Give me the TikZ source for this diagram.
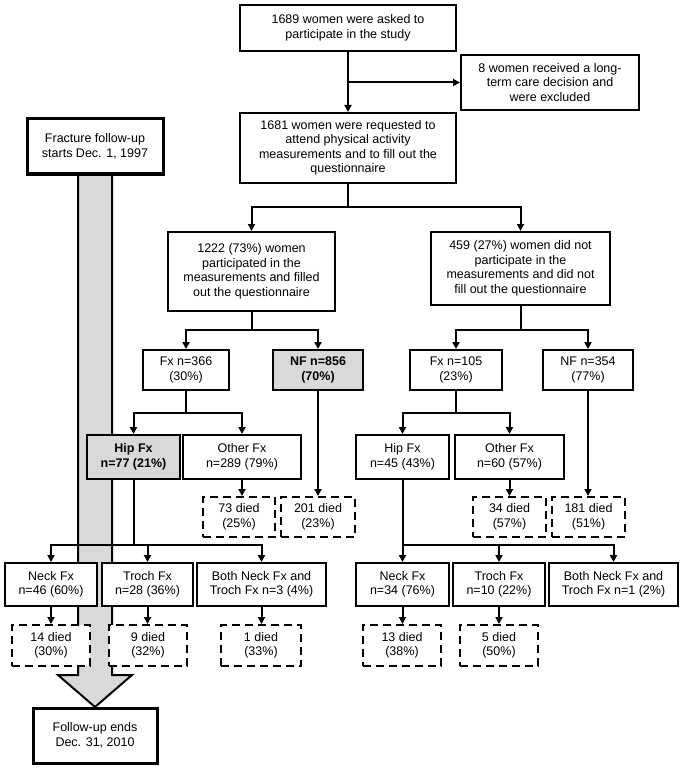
\documentclass[tikz,border=0pt]{standalone}
\usepackage{fontspec}
\setmainfont{Liberation Sans}
\usetikzlibrary{arrows.meta}
\begin{document}
\begin{tikzpicture}[x=1pt,y=-1pt,
 box/.style={draw, line width=2pt, fill=white, inner sep=0pt, align=center, font=\fontsize{12.5}{14.5}\selectfont},
 thickbox/.style={box, line width=3pt},
 graybox/.style={box, fill=gray!30, font=\fontsize{12.5}{14.5}\selectfont\bfseries},
 diedbox/.style={box, dash pattern=on 8pt off 5pt},
 ln/.style={line width=2pt, line cap=rect},
 arr/.style={line width=2pt, line cap=rect, -{Triangle[length=7pt,width=7pt]}},
]
\useasboundingbox (0,0) rectangle (685,770);

% follow-up bar with arrowhead
\draw[line width=2pt, fill=gray!30, line join=miter]
  (78,174) -- (78,675) -- (58,675) -- (95,707) -- (132,675) -- (112,675) -- (112,174) -- cycle;

% nodes
\node[box, minimum width=216pt, minimum height=46pt] (top) at (348,28) {1689 women were asked to\\participate in the study};
\node[box, minimum width=178pt, minimum height=55pt] (excl) at (550,82.5) {8 women received a long-\\term care decision and\\were excluded};
\node[box, minimum width=216pt, minimum height=70pt] (req) at (348,148) {1681 women were requested to\\attend physical activity\\measurements and to fill out the\\questionnaire};
\node[thickbox, minimum width=136pt, minimum height=55pt] (start) at (95,146.5) {Fracture follow-up\\starts Dec. 1, 1997};
\node[box, minimum width=167pt, minimum height=79pt] (part) at (251.5,271.5) {1222 (73\%) women\\participated in the\\measurements and filled\\out the questionnaire};
\node[box, minimum width=179pt, minimum height=73pt] (nonpart) at (520.5,268.5) {459 (27\%) women did not\\participate in the\\measurements and did not\\fill out the questionnaire};

\node[box, minimum width=86pt, minimum height=40pt] (fxL) at (186,370) {Fx n=366\\(30\%)};
\node[graybox, minimum width=90pt, minimum height=40pt] (nfL) at (318,370) {NF n=856\\(70\%)};
\node[box, minimum width=92pt, minimum height=40pt] (fxR) at (456,370) {Fx n=105\\(23\%)};
\node[box, minimum width=90pt, minimum height=40pt] (nfR) at (588,370) {NF n=354\\(77\%)};

\node[graybox, minimum width=93pt, minimum height=44pt] (hipL) at (133.5,457) {Hip Fx\\n=77 (21\%)};
\node[box, minimum width=118pt, minimum height=44pt] (othL) at (242,457) {Other Fx\\n=289 (79\%)};
\node[box, minimum width=93pt, minimum height=44pt] (hipR) at (402.5,457) {Hip Fx\\n=45 (43\%)};
\node[box, minimum width=109pt, minimum height=44pt] (othR) at (509.5,457) {Other Fx\\n=60 (57\%)};

\node[diedbox, minimum width=72pt, minimum height=40pt] (d73) at (239,517) {73 died\\(25\%)};
\node[diedbox, minimum width=74pt, minimum height=40pt] (d201) at (318,517) {201 died\\(23\%)};
\node[diedbox, minimum width=73pt, minimum height=40pt] (d34) at (509.5,517) {34 died\\(57\%)};
\node[diedbox, minimum width=73pt, minimum height=40pt] (d181) at (588.5,517) {181 died\\(51\%)};

\node[box, minimum width=92pt, minimum height=43pt] (neckL) at (51,584.5) {Neck Fx\\n=46 (60\%)};
\node[box, minimum width=91pt, minimum height=43pt] (trochL) at (147.5,584.5) {Troch Fx\\n=28 (36\%)};
\node[box, minimum width=129pt, minimum height=43pt] (bothL) at (261.5,584.5) {Both Neck Fx and\\Troch Fx n=3 (4\%)};
\node[box, minimum width=93pt, minimum height=43pt] (neckR) at (402.5,584.5) {Neck Fx\\n=34 (76\%)};
\node[box, minimum width=92pt, minimum height=43pt] (trochR) at (499,584.5) {Troch Fx\\n=10 (22\%)};
\node[box, minimum width=129pt, minimum height=43pt] (bothR) at (613.5,584.5) {Both Neck Fx and\\Troch Fx n=1 (2\%)};

\node[diedbox, minimum width=78pt, minimum height=41pt] (d14) at (51,645.5) {14 died\\(30\%)};
\node[diedbox, minimum width=78pt, minimum height=41pt] (d9) at (148,645.5) {9 died\\(32\%)};
\node[diedbox, minimum width=80pt, minimum height=41pt] (d1) at (261,645.5) {1 died\\(33\%)};
\node[diedbox, minimum width=78pt, minimum height=41pt] (d13) at (402,645.5) {13 died\\(38\%)};
\node[diedbox, minimum width=78pt, minimum height=41pt] (d5) at (499,645.5) {5 died\\(50\%)};

\node[thickbox, minimum width=124pt, minimum height=55pt] (endbox) at (95,735.5) {Follow-up ends\\Dec. 31, 2010};

% connectors
\draw[arr] (top.south) -- (req.north);
\draw[arr] (top.south |- excl.west) -- (excl.west);

\coordinate (j1) at (348,207);
\draw[ln] (req.south) -- (j1);
\draw[arr] (j1) -| (part.north);
\draw[arr] (j1) -| (nonpart.north);

\coordinate (j2) at (251.5,330);
\draw[ln] (part.south) -- (j2);
\draw[arr] (j2) -| (fxL.north);
\draw[arr] (j2) -| (nfL.north);

\coordinate (j3) at (520.5,330);
\draw[ln] (nonpart.south) -- (j3);
\draw[arr] (j3) -| (fxR.north);
\draw[arr] (j3) -| (nfR.north);

\coordinate (j4) at (186,413);
\draw[ln] (fxL.south) -- (j4);
\draw[arr] (j4) -| (hipL.north);
\draw[arr] (j4) -| (othL.north);

\coordinate (j5) at (456,413);
\draw[ln] (fxR.south) -- (j5);
\draw[arr] (j5) -| (hipR.north);
\draw[arr] (j5) -| (othR.north);

\draw[arr] (othL.south) -- (othL.south |- d73.north);
\draw[arr] (nfL.south) -- (d201.north);
\draw[arr] (othR.south) -- (d34.north);
\draw[arr] (nfR.south) -- (nfR.south |- d181.north);

\coordinate (j6) at (133.5,545);
\draw[ln] (hipL.south) -- (j6);
\draw[arr] (j6) -| (neckL.north);
\draw[arr] (j6) -| (trochL.north);
\draw[arr] (j6) -| (bothL.north);

\coordinate (j7) at (402.5,545);
\draw[arr] (hipR.south) -- (neckR.north);
\draw[arr] (j7) -| (trochR.north);
\draw[arr] (j7) -| (bothR.north);

\draw[arr] (neckL.south) -- (d14.north);
\draw[arr] (trochL.south) -- (trochL.south |- d9.north);
\draw[arr] (bothL.south) -- (bothL.south |- d1.north);
\draw[arr] (neckR.south) -- (neckR.south |- d13.north);
\draw[arr] (trochR.south) -- (d5.north);
\end{tikzpicture}
\end{document}
